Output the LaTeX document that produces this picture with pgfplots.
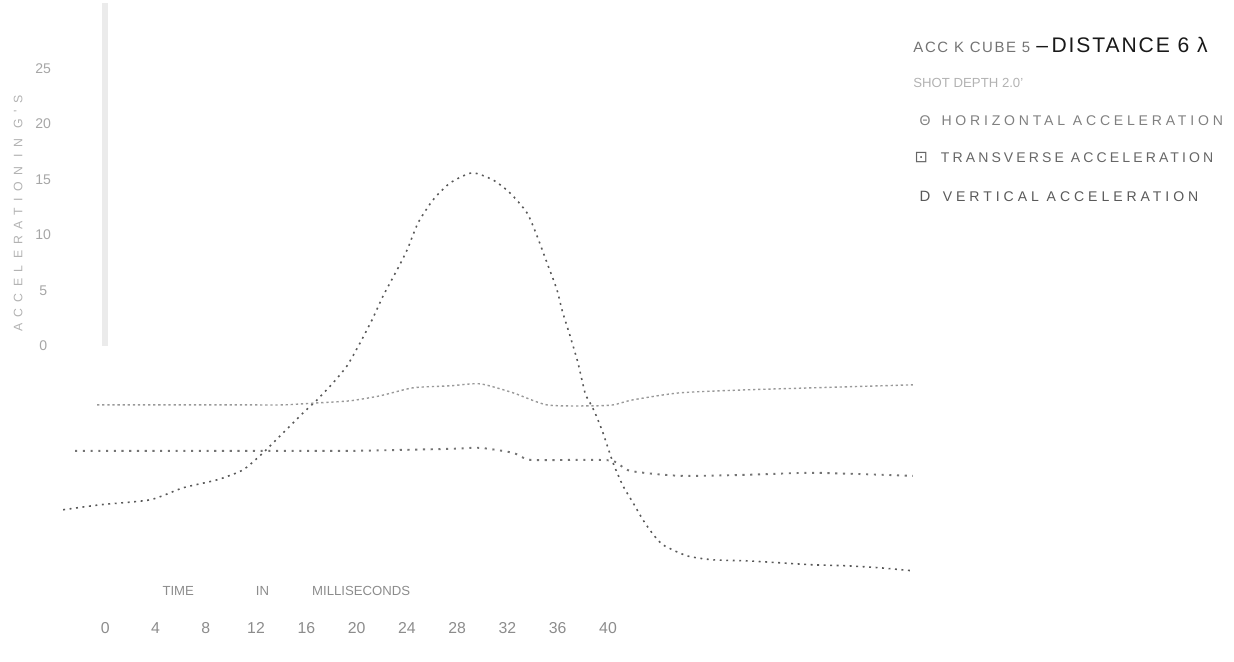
\documentclass[border=0pt]{standalone}
\usepackage{pgfplots}
\pgfplotsset{compat=1.18}
\usepackage{fontspec}
\setmainfont{Liberation Sans}
\newfontfamily\spacedA[LetterSpace=11]{Liberation Sans}
\newfontfamily\spacedD[LetterSpace=9]{Liberation Sans}
\newfontfamily\spacedH[LetterSpace=27]{Liberation Sans}
\newfontfamily\spacedT[LetterSpace=22]{Liberation Sans}
\newfontfamily\spacedV[LetterSpace=28]{Liberation Sans}
\newfontfamily\spacedY[LetterSpace=52]{Liberation Sans}
\newfontfamily\symf{DejaVu Sans}
\begin{document}
\begin{tikzpicture}
\begin{axis}[
  scale only axis, width=24.68cm, height=13.18cm,
  xmin=-8.35, xmax=89.78, ymin=-28.47, ymax=30.90,
  axis line style={draw=none}, major tick length=0pt,
  xtick={0,4,...,40}, ytick={0,5,...,25},
  /pgf/number format/assume math mode=true,
  xticklabel style={anchor=center, yshift=6.8mm, font=\fontsize{9}{10}\selectfont, text=black!45},
  yticklabel style={anchor=center, xshift=8.6mm, font=\fontsize{8}{9}\selectfont, text=black!35},
  xlabel={TIME\hspace{12.4mm}IN\hspace{8.6mm}MILLISECONDS},
  xlabel style={at={(axis description cs:0.232,0.108)}, anchor=center, font=\fontsize{7.5}{9}\selectfont, text=black!45},
  ylabel={\spacedY ACCELERATION IN G'S},
  ylabel style={at={(axis description cs:0.0146,0.680)}, anchor=center, rotate=0, font=\fontsize{7}{8}\selectfont, text=black!30},
  clip=false,
]
% faint axis line
\addplot[black!8, line width=1.2mm] coordinates {(0,30.9) (0,0)};
% vertical acceleration (large peak)
\addplot[black!65, line width=0.9pt, dash pattern=on 1.1pt off 2.6pt, smooth, tension=0.4] coordinates {
(-3.34,-14.77) (-0.40,-14.32) (3.58,-13.87) (6.20,-12.79) (8.91,-12.07) (10.97,-11.17)
(12.56,-9.64) (14.16,-7.84) (15.75,-6.04) (16.86,-4.86) (18.13,-3.33) (19.24,-1.80)
(20.28,0.27) (21.23,2.34) (22.11,4.50) (23.22,6.85) (24.02,8.65) (24.89,11.08)
(26.08,13.15) (27.44,14.68) (29.19,15.59) (30.85,14.95) (32.21,13.78) (33.56,11.98)
(34.35,9.91) (35.15,7.48) (35.94,5.05) (36.34,3.24) (36.98,0.90) (37.61,-1.53)
(38.17,-4.23) (38.57,-5.14) (38.97,-6.04) (39.60,-7.84) (40.40,-10.54) (41.19,-12.61)
(41.99,-14.14) (42.78,-15.68) (43.50,-16.85) (44.37,-17.93) (46.28,-18.92) (48.35,-19.28)
(51.05,-19.37) (53.68,-19.55) (56.30,-19.73) (59.01,-19.82) (61.63,-20.00) (64.25,-20.27)};
% horizontal acceleration (upper wavy)
\addplot[black!40, line width=0.8pt, dash pattern=on 1.3pt off 1.6pt, smooth, tension=0.4] coordinates {
(-0.64,-5.32) (3.58,-5.32) (7.55,-5.32) (11.53,-5.32) (14.16,-5.32) (16.86,-5.14)
(19.48,-4.95) (21.87,-4.50) (24.49,-3.78) (27.44,-3.60) (29.82,-3.42) (32.45,-4.23)
(35.15,-5.32) (38.57,-5.41) (40.40,-5.32) (41.99,-4.86) (45.73,-4.23) (51.05,-3.96)
(56.30,-3.78) (61.63,-3.60) (64.25,-3.51)};
% transverse acceleration (middle)
\addplot[black!55, line width=1.1pt, dash pattern=on 1.2pt off 3.2pt, smooth, tension=0.4] coordinates {
(-2.39,-9.46) (3.58,-9.46) (11.53,-9.46) (19.48,-9.46) (27.44,-9.28) (29.82,-9.19)
(32.45,-9.64) (33.80,-10.27) (37.77,-10.27) (40.40,-10.36) (41.75,-11.26) (45.73,-11.71)
(51.05,-11.62) (56.30,-11.44) (64.25,-11.71)};
% title and legend text
\node[anchor=west, inner sep=0pt] at (rel axis cs:0.740,0.936)
  {{\spacedA\fontsize{8.5}{10}\selectfont\color{black!55}ACC K CUBE 5}\hspace{1.2mm}{\spacedD\fontsize{12}{14}\selectfont\color{black!90}–\,DISTANCE 6 λ}};
\node[anchor=west, inner sep=0pt, text=black!30] at (rel axis cs:0.740,0.879)
  {\fontsize{7.5}{9}\selectfont SHOT DEPTH 2.0'};
\node[anchor=west, inner sep=0pt, text=black!50] at (rel axis cs:0.745,0.822)
  {{\fontsize{8}{9}\selectfont Θ}\hspace{2.2mm}{\spacedH\fontsize{8}{9}\selectfont HORIZONTAL ACCELERATION}};
\node[anchor=west, inner sep=0pt, text=black!60] at (rel axis cs:0.741,0.765)
  {{\symf\fontsize{9}{9}\selectfont ⊡}\hspace{2.6mm}{\spacedT\fontsize{8}{9}\selectfont TRANSVERSE ACCELERATION}};
\node[anchor=west, inner sep=0pt, text=black!65] at (rel axis cs:0.745,0.707)
  {{\fontsize{8.5}{9}\selectfont D}\hspace{2.5mm}{\spacedV\fontsize{8}{9}\selectfont VERTICAL ACCELERATION}};
\end{axis}
\end{tikzpicture}
\end{document}
